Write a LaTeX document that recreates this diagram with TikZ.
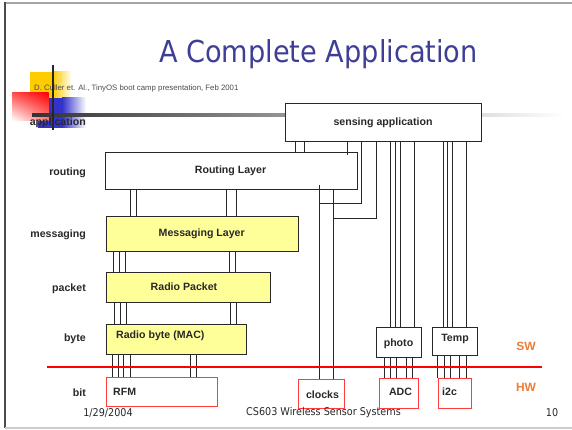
\documentclass[tikz,border=0pt]{standalone}
\usepackage{fontspec}
\setmainfont{Liberation Sans}
\newfontfamily\slidefont{DejaVu Sans Condensed}
\usetikzlibrary{calc,shadings}
\definecolor{titleblue}{RGB}{62,62,150}
\definecolor{boxyellow}{RGB}{255,255,153}
\definecolor{hwred}{RGB}{255,60,60}
\definecolor{tagorange}{RGB}{238,125,55}
\definecolor{logoyellow}{RGB}{255,204,0}
\definecolor{logoblue}{RGB}{51,51,204}
\definecolor{ink}{RGB}{40,40,40}
% vertical bundles of wires between two boxes
\newcommand\wires[3]{\foreach \x in {#3} \draw[wire] (\x,0 |- #1.south) -- (\x,0 |- #2.north);}
\begin{document}
\begin{tikzpicture}[x=1pt,y=-1pt,
  lbl/.style={font=\fontsize{10.6}{12}\selectfont\bfseries, text=ink, inner sep=0},
  layer/.style={lbl, anchor=east},
  swbox/.style={draw=ink, line width=0.9pt, inner sep=0, outer sep=0, fill=white},
  msgbox/.style={swbox, fill=boxyellow},
  hwbox/.style={draw=hwred, line width=0.9pt, inner sep=0, outer sep=0, fill=white},
  wire/.style={draw=ink, line width=0.8pt},
  foot/.style={font=\slidefont\fontsize{10.7}{12}\selectfont, text=ink, inner sep=0},
]
\useasboundingbox (0,0) rectangle (572,430);
\fill[white] (0,0) rectangle (572,430);

% slide frame
\draw[black!35, line width=2pt] (4,3.5) -- (572,3.5);
\draw[black!70, line width=2pt] (5,2.5) -- (5,428);
\draw[black!20, line width=1.5pt] (5,428) -- (572,428);

% title
\node[font=\slidefont\fontsize{30.2}{34}\selectfont, text=titleblue, inner sep=0] (title) at (318.5,54) {A Complete Application};

% header logo
\fill[logoyellow] (30,72) rectangle (53,98);
\shade[left color=logoyellow, right color=white] (53,72) rectangle (72,98);
\fill[logoblue] (38,98) rectangle (62,128);
\shade[left color=logoblue, right color=white] (62,98) rectangle (86,128);
\shade[upper right=red, upper left=red!70, lower right=red!50, lower left=white] (12,92.5) rectangle (48.5,120.5);
\shade[left color=black!80, right color=white] (32,113.8) rectangle (565,116.3);

\node[font=\fontsize{7.8}{9}\selectfont, text=black!70, inner sep=0, anchor=west] (cite) at (34,88.3) {D. Culler et. Al., TinyOS boot camp presentation, Feb 2001};

% layer names
\node[layer] (lapp) at (86,122.3) {application};
\node[layer] (lrout) at (86,173) {routing};
\node[layer] (lmsg) at (86,234.5) {messaging};
\node[layer] (lpkt) at (86,288.5) {packet};
\node[layer] (lbyte) at (86,339) {byte};
\node[layer] (lbit) at (86,392.5) {bit};

\draw[black!85, line width=2pt] (52.7,65) -- (52.7,130.5);

% software components
\node[swbox, minimum width=196pt, minimum height=38pt] (sa) at (383,122) {};
\node[lbl] (sat) at (383,123) {sensing application};
\node[swbox, minimum width=252pt, minimum height=37pt] (rt) at (231,170.5) {};
\node[lbl] (rtt) at (230.5,171) {Routing Layer};
\node[msgbox, minimum width=192pt, minimum height=35pt] (ml) at (202,233.5) {};
\node[lbl] (mlt) at (201.7,234) {Messaging Layer};
\node[msgbox, minimum width=164pt, minimum height=30pt] (rp) at (188,287) {};
\node[lbl] (rpt) at (184,286.5) {Radio Packet};
\node[msgbox, minimum width=140pt, minimum height=30pt] (rb) at (176,339) {};
\node[lbl, anchor=west] (rbt) at (116,336) {Radio byte (MAC)};
\node[swbox, minimum width=45pt, minimum height=30pt] (ph) at (398.5,342) {};
\node[lbl] (pht) at (398.5,343.5) {photo};
\node[swbox, minimum width=45pt, minimum height=28pt] (tp) at (454.5,341) {};
\node[lbl] (tpt) at (455,338.5) {Temp};

% hardware components
\node[hwbox, minimum width=111pt, minimum height=29pt] (rfm) at (161.5,391.5) {};
\node[lbl, anchor=west] (rfmt) at (113,391.5) {RFM};
\node[hwbox, minimum width=46pt, minimum height=29pt] (ck) at (321,393.5) {};
\node[lbl] (ckt) at (322.5,394.5) {clocks};
\node[hwbox, minimum width=39pt, minimum height=30pt] (adc) at (398.5,393) {};
\node[lbl] (adct) at (400.5,391.5) {ADC};
\node[hwbox, minimum width=33pt, minimum height=30pt] (i2c) at (454.5,393) {};
\node[lbl, anchor=west] (i2ct) at (442,391.5) {i2c};

% wiring between layers
\wires{sa}{rt}{295,304.3}
\draw[wire] (347.7,0 |- sa.south) -- ($(347.7,0 |- rt.north)+(0,3)$);
\draw[wire] ($(319,0 |- rt.south)+(0,-4)$) -- (319,0 |- ck.north);
\draw[wire] (361.7,0 |- sa.south) |- (319,203);
\draw[wire] (333,0 |- rt.south) -- (333,0 |- ck.north);
\draw[wire] (376,0 |- sa.south) |- (333,218);
\wires{sa}{ph}{390.7,395,400.3,414.3}
\wires{sa}{tp}{443,447.7,452.7,466.7}
\wires{ph}{adc}{384,390.7,396,406,412.7}
\wires{tp}{i2c}{437.7,444.3,450,459,466}
\wires{rt}{ml}{130.7,136,226.7,236}
\wires{ml}{rp}{113.3,119.3,125,229.3,235.3}
\wires{rp}{rb}{114.3,120.7,126,230,236.7}
\wires{rb}{rfm}{112.3,118.3,123.7,130,190.7,196.7}

% software / hardware boundary
\draw[red, line width=2.5pt] (47,367) coordinate (bl) -- (542,367) coordinate (br);
\node[font=\fontsize{12}{14}\selectfont\bfseries, text=tagorange, inner sep=0] (sw) at (526,346) {SW};
\node[font=\fontsize{12}{14}\selectfont\bfseries, text=tagorange, inner sep=0] (hw) at (526,387.5) {HW};

% footer
\node[foot] (date) at (108,413) {1/29/2004};
\node[foot] (course) at (323.5,413) {CS603 Wireless Sensor Systems};
\node[foot] (page) at (552,413) {10};
\end{tikzpicture}
\end{document}
